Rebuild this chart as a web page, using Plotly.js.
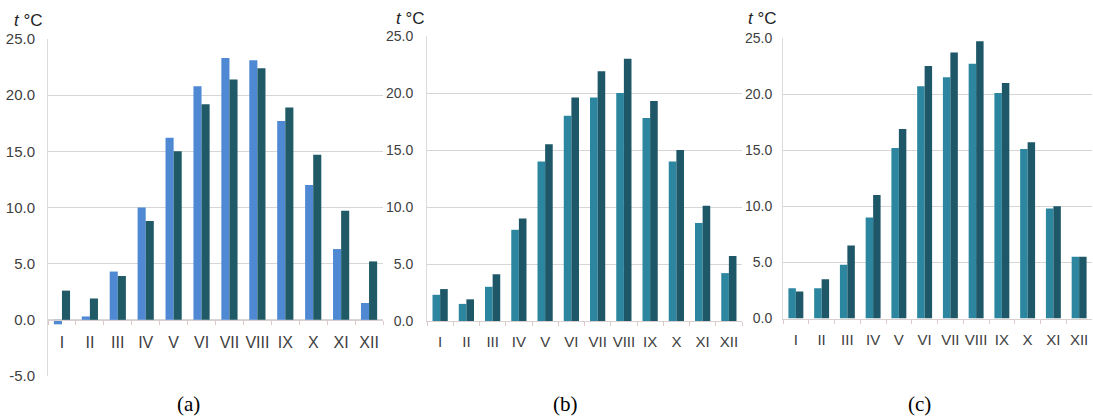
<!DOCTYPE html>
<html>
<head>
<meta charset="utf-8">
<script src="https://cdn.plot.ly/plotly-3.0.1.min.js"></script>
<style>
html,body{margin:0;padding:0;background:#fff;}
#chart{width:1093px;height:416px;}
</style>
</head>
<body>
<div id="chart"></div>
<script>
// Data
var months = ['I','II','III','IV','V','VI','VII','VIII','IX','X','XI','XII'];
var a1 = [-0.4, 0.3, 4.3, 10.0, 16.2, 20.8, 23.3, 23.1, 17.7, 12.0, 6.3, 1.5];
var a2 = [2.6, 1.9, 3.9, 8.8, 15.0, 19.2, 21.4, 22.4, 18.9, 14.7, 9.7, 5.2];
var b1 = [2.3, 1.5, 3.0, 8.0, 14.0, 18.0, 19.6, 20.0, 17.8, 14.0, 8.6, 4.2];
var b2 = [2.8, 1.9, 4.1, 9.0, 15.5, 19.6, 21.9, 23.0, 19.3, 15.0, 10.1, 5.7];
var c1 = [2.7, 2.7, 4.8, 9.0, 15.2, 20.7, 21.5, 22.7, 20.1, 15.1, 9.8, 5.5];
var c2 = [2.4, 3.5, 6.5, 11.0, 16.9, 22.5, 23.7, 24.7, 21.0, 15.7, 10.0, 5.5];
var yTicksA = [-5, 0, 5, 10, 15, 20, 25];
var yTicksBC = [0, 5, 10, 15, 20, 25];
var panelLabels = ['(a)', '(b)', '(c)'];
var unitLabel = '<i>t</i> °C';

var W = 1093, H = 416;
function px(x){ return x / W; }
function py(y){ return 1 - y / H; }

var FONT = '"Liberation Sans", Arial, sans-serif';
var gridC = '#d6d6d6';
var tickTxt = '#404040';

var aLight = '#4f89d4', aDark = '#1f5a66';
var bLight = '#2c86a0', bDark = '#1e5868';

function bar(x, y, color, xa, ya){
  return {type:'bar', x:x, y:y, xaxis:xa, yaxis:ya, marker:{color:color, line:{width:0}}, hoverinfo:'skip'};
}

var data = [
  bar(months, a1, aLight, 'x', 'y'),
  bar(months, a2, aDark, 'x', 'y'),
  bar(months, b1, bLight, 'x2', 'y2'),
  bar(months, b2, bDark, 'x2', 'y2'),
  bar(months, c1, bLight, 'x3', 'y3'),
  bar(months, c2, bDark, 'x3', 'y3')
];

// Panel a: y from -5 (y=376) to 25 (y=39); zero at ~319.3
var aTop = 39, aBot = 376;
var aZero = aBot - (aBot - aTop) * 5 / 30;

function xax(domain, fs, extra){
  var o = {
    domain: domain,
    type: 'category',
    categoryorder: 'array', categoryarray: months,
    showgrid: false, zeroline: false,
    showline: true, linecolor: '#d9cfcf', linewidth: 1,
    ticks: 'outside', tickson: 'boundaries', ticklen: 4, tickcolor: '#dcc9c9', tickwidth: 1,
    tickangle: 0,
    tickfont: {family: FONT, size: fs, color: tickTxt},
    fixedrange: true
  };
  for (var k in extra) o[k] = extra[k];
  return o;
}
function yax(domain, range, ticks, fs, anchor, standoff){
  return {
    domain: domain, range: range,
    tickmode: 'array', tickvals: ticks, ticktext: ticks.map(function(v){return v.toFixed(1);}),
    showgrid: true, gridcolor: gridC, gridwidth: 1,
    zeroline: false,
    showline: true, linecolor: '#dcdcdc', linewidth: 1,
    ticks: '', ticklabelstandoff: standoff,
    tickfont: {family: FONT, size: fs, color: tickTxt},
    anchor: anchor, fixedrange: true
  };
}

var layout = {
  width: W, height: H,
  margin: {l:0, r:0, t:0, b:0, pad:0},
  paper_bgcolor: '#fff', plot_bgcolor: 'rgba(0,0,0,0)',
  showlegend: false,
  barmode: 'group', bargap: 0.42, bargroupgap: 0,
  xaxis: xax([px(48), px(383)], 16, {anchor:'free', position: py(aZero), ticklabelstandoff: 8}),
  yaxis: yax([py(aBot), py(aTop)], [-5, 25], yTicksA, 15, 'x', 9),
  xaxis2: xax([px(427), px(742)], 15, {anchor:'y2', ticklabelstandoff: 7}),
  yaxis2: yax([py(321), py(36)], [0, 25], yTicksBC, 14, 'x2', 10),
  xaxis3: xax([px(783), px(1092)], 15, {anchor:'y3', ticklabelstandoff: 7}),
  yaxis3: yax([py(318.5), py(38)], [0, 25], yTicksBC, 14, 'x3', 7),
  annotations: [
    {text: unitLabel, x: px(28), y: py(20), xref:'paper', yref:'paper', showarrow:false, xanchor:'center', yanchor:'middle', font:{family:FONT, size:17, color:'#222'}},
    {text: unitLabel, x: px(410), y: py(19), xref:'paper', yref:'paper', showarrow:false, xanchor:'center', yanchor:'middle', font:{family:FONT, size:17, color:'#222'}},
    {text: unitLabel, x: px(762), y: py(19), xref:'paper', yref:'paper', showarrow:false, xanchor:'center', yanchor:'middle', font:{family:FONT, size:17, color:'#222'}},
    {text: panelLabels[0], x: px(188), y: py(404), xref:'paper', yref:'paper', showarrow:false, xanchor:'center', yanchor:'middle', font:{family:'"Liberation Serif", "Times New Roman", serif', size:21, color:'#000'}},
    {text: panelLabels[1], x: px(565), y: py(404), xref:'paper', yref:'paper', showarrow:false, xanchor:'center', yanchor:'middle', font:{family:'"Liberation Serif", "Times New Roman", serif', size:21, color:'#000'}},
    {text: panelLabels[2], x: px(919), y: py(404), xref:'paper', yref:'paper', showarrow:false, xanchor:'center', yanchor:'middle', font:{family:'"Liberation Serif", "Times New Roman", serif', size:21, color:'#000'}}
  ]
};

Plotly.newPlot('chart', data, layout, {displayModeBar:false, staticPlot:true});
</script>
</body>
</html>
